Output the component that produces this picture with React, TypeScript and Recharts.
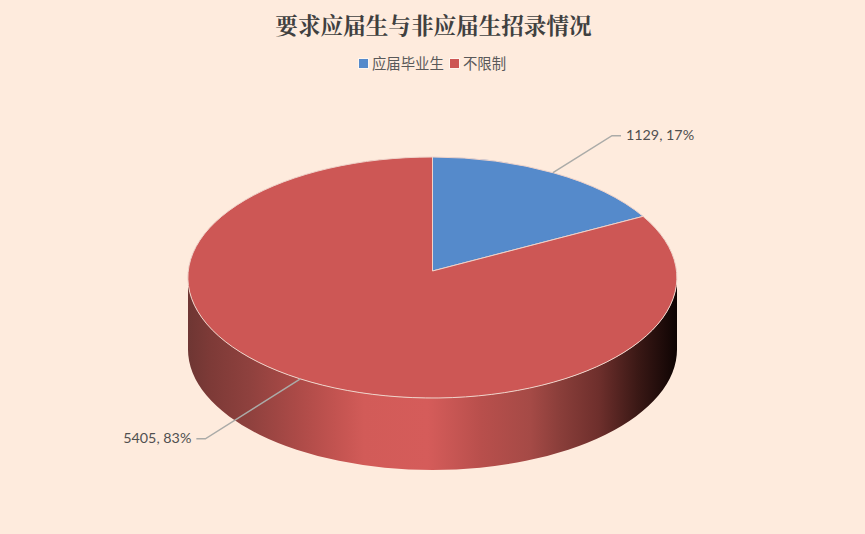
import React from 'react';
import { PieChart, Pie, Cell, Legend } from 'recharts';

const categories = ['应届毕业生', '不限制'];
const counts = [1129, 5405];
const colors = ['#558ACB', '#CD5755'];

const rows = categories.map((name, i) => ({ name, value: counts[i] }));

// tilted disc: the far half is foreshortened more than the near half
const BACK = 114;
const FRONT = 127;
const DEPTH = 72;
const TILT = (BACK - FRONT) / (BACK + FRONT);
const SCALE_Y = BACK * (1 - TILT);
const RY = (BACK + FRONT) / 2;
const SHIFT_Y = (FRONT - BACK) / 2;

const project = (cx: number, cy: number, r: number, fromTop: number) => {
  const a = (fromTop * Math.PI) / 180;
  const u = Math.sin(a);
  const v = -Math.cos(a);
  const k = 1 + TILT * v;
  return { x: cx + (u * r) / k, y: cy + (SCALE_Y * v) / k };
};

const wallStops: [string, string][] = [
  ['0%', '#6E3633'],
  ['4.5%', '#7D3A37'],
  ['12.7%', '#8F413E'],
  ['23%', '#AE4B48'],
  ['30%', '#C25350'],
  ['36%', '#D25B58'],
  ['49%', '#D55C5A'],
  ['60%', '#B84F4C'],
  ['70%', '#A54A46'],
  ['76%', '#8A3E3A'],
  ['84%', '#6E2F2C'],
  ['92%', '#3A1815'],
  ['100%', '#0E0403'],
];

const Slice = (props: any) => {
  const { cx, cy, outerRadius: r, startAngle, endAngle, fill } = props;
  const from = 90 - startAngle;
  const to = 90 - endAngle;
  const a = project(cx, cy, r, from);
  const b = project(cx, cy, r, to);
  const large = to - from > 180 ? 1 : 0;
  const rx = r + 0.5;
  const top = `M${cx},${cy} L${a.x},${a.y} A${rx},${RY} 0 ${large} 1 ${b.x},${b.y} Z`;
  const ey = cy + SHIFT_Y;
  const hasWall = from <= 90 && to >= 270;
  return (
    <g>
      {hasWall && (
        <>
          <defs>
            <linearGradient id="wall" x1="0" y1="0" x2="1" y2="0">
              {wallStops.map(([offset, color]) => (
                <stop key={offset} offset={offset} stopColor={color} />
              ))}
            </linearGradient>
          </defs>
          <path
            d={`M${cx - rx},${ey} A${rx},${RY} 0 0 0 ${cx + rx},${ey} L${cx + rx},${ey + DEPTH} A${rx},${RY} 0 0 1 ${cx - rx},${ey + DEPTH} Z`}
            fill="url(#wall)"
          />
        </>
      )}
      <path d={top} fill={fill} stroke="#EFD3CA" strokeWidth={1} />
    </g>
  );
};

const SliceLabel = (props: any) => {
  const { cx, cy, outerRadius, midAngle, value, percent } = props;
  const p = project(cx, cy, outerRadius, 90 - midAngle);
  const right = p.x > cx;
  const dir = right ? 1 : -1;
  const elbowX = p.x + dir * (right ? 59 : 95);
  const elbowY = p.y + (right ? -37 : 60);
  const endX = elbowX + dir * 9;
  return (
    <g>
      <polyline
        points={`${p.x},${p.y} ${elbowX},${elbowY} ${endX},${elbowY}`}
        fill="none"
        stroke="#ABABA8"
        strokeWidth={1.5}
      />
      <text
        x={endX + dir * 5}
        y={elbowY + 1}
        textAnchor={right ? 'start' : 'end'}
        dominantBaseline="middle"
        fontFamily="Lato, sans-serif"
        fontSize={14.3}
        fill="#505050"
      >
        {`${value}, ${Math.round(percent * 100)}%`}
      </text>
    </g>
  );
};

const LegendRow = ({ payload }: any) => (
  <div
    style={{
      display: 'flex',
      justifyContent: 'center',
      gap: 6,
      fontFamily: '"Noto Sans CJK SC", sans-serif',
      fontSize: 14.4,
      lineHeight: '22px',
      color: '#595959',
    }}
  >
    {(payload || []).map((item: any) => (
      <span key={item.value} style={{ display: 'flex', alignItems: 'center', gap: 4 }}>
        <span style={{ width: 9, height: 9, background: item.color, outline: '1px solid #FFF6EE' }} />
        {item.value}
      </span>
    ))}
  </div>
);

export default function App() {
  return (
    <div style={{ position: 'absolute', left: 0, top: 0, width: 865, height: 534, background: '#FEEBDD' }}>
      <div
        style={{
          position: 'absolute',
          left: 0,
          top: 9,
          width: 867,
          textAlign: 'center',
          fontFamily: '"Noto Serif CJK SC", "Noto Sans CJK SC", serif',
          fontWeight: 700,
          fontSize: 22.6,
          lineHeight: '30px',
          color: '#404040',
        }}
      >
        要求应届生与非应届生招录情况
      </div>
      <PieChart width={865} height={534} margin={{ top: 0, right: 0, bottom: 0, left: 0 }}>
        <Legend
          verticalAlign="bottom"
          itemSorter={null}
          wrapperStyle={{ top: 52, bottom: 'auto' }}
          content={LegendRow}
        />
        <Pie
          data={rows}
          dataKey="value"
          nameKey="name"
          cx={432.5}
          cy={271}
          outerRadius={244}
          startAngle={90}
          endAngle={-270}
          stroke="none"
          shape={Slice}
          label={SliceLabel}
          labelLine={false}
          isAnimationActive={false}
        >
          {rows.map((row, i) => (
            <Cell key={row.name} fill={colors[i]} />
          ))}
        </Pie>
      </PieChart>
    </div>
  );
}
